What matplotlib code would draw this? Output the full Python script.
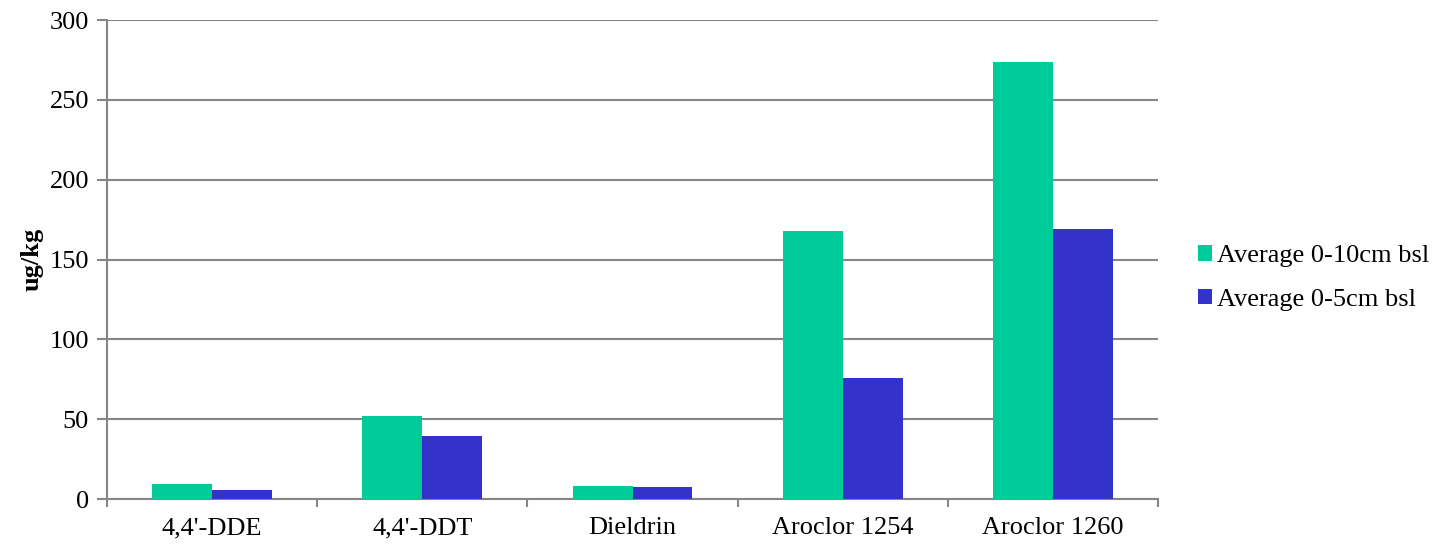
import numpy as np
import matplotlib.pyplot as plt
from matplotlib.ticker import FixedLocator

categories = ["4,4'-DDE", "4,4'-DDT", "Dieldrin", "Aroclor 1254", "Aroclor 1260"]
avg_0_10 = [9.4, 52, 8, 168, 274]
avg_0_5 = [5.5, 39.5, 7.3, 75.6, 169]
series_names = ["Average 0-10cm bsl", "Average 0-5cm bsl"]
colors = ["#00CC99", "#3333CC"]

plt.rcParams["font.family"] = ["Liberation Serif", "DejaVu Serif"]

fig = plt.figure(figsize=(14.39, 5.45), dpi=100)
ax = fig.add_axes([0.0744, 0.0844, 0.7303, 0.8789])

x = np.arange(len(categories))
w = 0.285
ax.bar(x - w / 2, avg_0_10, w, color=colors[0], label=series_names[0], zorder=3)
ax.bar(x + w / 2, avg_0_5, w, color=colors[1], label=series_names[1], zorder=3)

ax.set_xlim(-0.5, len(categories) - 0.5)
ax.set_ylim(0, 300)
ax.set_yticks(np.arange(0, 301, 50))
ax.set_xticks(x)
ax.set_xticklabels(categories, fontsize=19)
ax.xaxis.set_minor_locator(FixedLocator(np.arange(-0.5, len(categories), 1)))
ax.tick_params(axis="x", which="major", length=0, pad=13)
ax.tick_params(axis="x", which="minor", length=6, color="#868686", width=1.5)
ax.tick_params(axis="y", labelsize=19, length=7, color="#868686", width=1.5, pad=6)

ax.grid(axis="y", color="#868686", linewidth=1.5, zorder=0)
ax.set_axisbelow(True)
for s in ["top", "right"]:
    ax.spines[s].set_visible(False)
for s in ["left", "bottom"]:
    ax.spines[s].set_color("#868686")
    ax.spines[s].set_linewidth(1.5)

ax.set_ylabel("ug/kg", fontsize=19, fontweight="bold", labelpad=4)

ax.legend(loc="center left", bbox_to_anchor=(0.8325, 0.49), bbox_transform=fig.transFigure,
          borderaxespad=0, borderpad=0, frameon=False,
          fontsize=19, handlelength=0.52, handleheight=0.52, handletextpad=0.2,
          labelspacing=0.8)

fig.savefig("out.png", dpi=100)
